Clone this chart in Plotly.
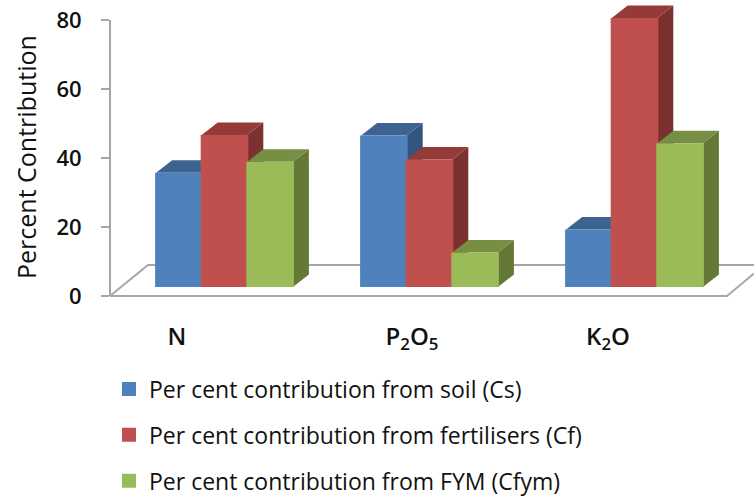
import plotly.graph_objects as go

categories = ["N", "P<sub>2</sub>O<sub>5</sub>", "K<sub>2</sub>O"]
series_names = [
    "Per cent contribution from soil (Cs)",
    "Per cent contribution from fertilisers (Cf)",
    "Per cent contribution from FYM (Cfym)",
]
soil = [35.7, 46.5, 19.3]
fertilisers = [46.7, 39.6, 80.6]
fym = [38.9, 12.6, 44.3]
y_ticks = [0, 20, 40, 60, 80]

front_colors = ["#4F81BD", "#C0504D", "#9BBB59"]
top_colors = ["#3D6391", "#953A38", "#778F42"]
side_colors = ["#325680", "#7B312F", "#657836"]

W, H = 754, 497
L, T, B = 110, 0, H - 296
PXY = 296 / 85.8
PXX = 205.0
C0 = 224.5
x_range = [(L - C0) / PXX, (W - C0) / PXX]
y_range = [0, 85.8]
BAR_W = 45.6 / PXX
DX = 16 / PXX
DY = 12.5 / PXY
BASE = 2.6
FONT = "Open Sans"
GRAY = "#A6A6A6"
INK = "#111111"
positions = list(range(len(categories)))
label_pos = [(177 - C0) / PXX, (412 - C0) / PXX, (608 - C0) / PXX]


def px(v):
    return (v - L) / (W - L)


def py(v):
    return (296 - v) / 296


fig = go.Figure()
all_series = [soil, fertilisers, fym]

# Depth faces (top and right side), back layer
for s, (vals, top, side) in enumerate(zip(all_series, top_colors, side_colors)):
    for p, v in zip(positions, vals):
        x0 = p + (s - 1.5) * BAR_W
        x1 = x0 + BAR_W
        fig.add_trace(go.Scatter(
            x=[x1, x1 + DX, x1 + DX, x1, x1], y=[BASE, BASE + DY, v + DY, v, BASE],
            mode="lines", fill="toself", fillcolor=side, line=dict(width=0),
            showlegend=False, hoverinfo="skip"))
        fig.add_trace(go.Scatter(
            x=[x0, x0 + DX, x1 + DX, x1, x0], y=[v, v + DY, v + DY, v, v],
            mode="lines", fill="toself", fillcolor=top, line=dict(width=0),
            showlegend=False, hoverinfo="skip"))

# Front faces on an overlay so they sit above the depth faces
EDGE = 1 / PXY
for name, vals, color in zip(series_names, all_series, front_colors):
    fig.add_trace(go.Bar(
        x=positions, y=[v - BASE - 2 * EDGE for v in vals], base=BASE + EDGE, name=name,
        legendgroup=name,
        marker=dict(color=color, line=dict(width=2, color=color)),
        xaxis="x2", yaxis="y2"))

line = dict(color=GRAY, width=2)
floor = (f"M {px(L)} {py(296)} L {px(148)} {py(265)} L 1 {py(265)} "
         f"M {px(L)} {py(296)} L {px(727)} {py(296)} L 1 {py(273.5)}")
fig.add_shape(type="path", path=floor, xref="paper", yref="paper", line=line, layer="below")
fig.add_shape(type="line", x0=0, x1=0, y0=0, y1=80, xref="paper", yref="y", line=line, layer="below")

fig.add_annotation(text="Percent Contribution", textangle=-90, xref="paper", yref="paper",
                   x=px(26), y=py(157), xanchor="center", yanchor="middle", showarrow=False,
                   font=dict(family=FONT, size=25, color=INK, weight=500))

fig.update_layout(
    width=W, height=H, autosize=False,
    margin=dict(l=L, r=0, t=T, b=B, pad=0, autoexpand=False),
    paper_bgcolor="white", plot_bgcolor="rgba(0,0,0,0)",
    barmode="group", bargap=1 - 3 * BAR_W, bargroupgap=0,
    hovermode=False,
    xaxis=dict(range=x_range, tickmode="array", tickvals=label_pos, ticktext=categories,
               showgrid=False, zeroline=False, showline=False, ticks="",
               ticklabelstandoff=24, tickangle=0,
               tickfont=dict(family=FONT, size=24, color=INK, weight=600)),
    yaxis=dict(range=y_range, tickmode="array", tickvals=y_ticks, showgrid=False,
               zeroline=False, showline=False, ticks="outside", ticklen=8, tickwidth=2,
               tickcolor=GRAY, ticklabelstandoff=15,
               tickfont=dict(family=FONT, size=22, color=INK, weight=600)),
    xaxis2=dict(range=x_range, overlaying="x", visible=False),
    yaxis2=dict(range=y_range, overlaying="y", visible=False),
    legend=dict(x=px(109), xanchor="left", y=py(367.5), yanchor="top", maxheight=220,
                bgcolor="rgba(0,0,0,0)", tracegroupgap=13, traceorder="grouped",
                itemclick=False, itemdoubleclick=False,
                font=dict(family=FONT, size=23, color=INK)),
)

fig.write_html("out.html", config=dict(displayModeBar=False),
               post_script="document.body.style.margin='0';document.documentElement.style.overflow='hidden';")
